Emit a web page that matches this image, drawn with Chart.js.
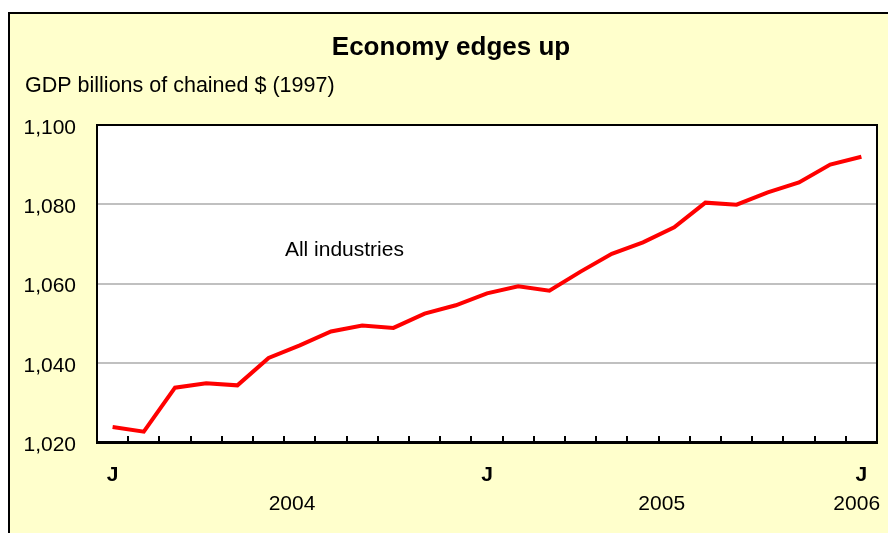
<!DOCTYPE html>
<html lang="en">
<head>
    <meta charset="UTF-8">
    <title>Economy edges up</title>
    <style>
        body { margin: 0; background: #fff; overflow: hidden; }
        #frame { position: absolute; left: 8px; top: 12px; width: 1000px; height: 700px; background: #ffffcc; border: 2px solid #000; }
        #gdpChart { position: absolute; left: 0; top: 0; }
    </style>
</head>
<body>
    <div id="frame"></div>
    <canvas id="gdpChart" width="888" height="533"></canvas>

    <script src="https://cdn.jsdelivr.net/npm/chart.js"></script>
    <script>
    // Monthly GDP, Jan 2004 - Jan 2006 (billions of chained 1997 $)
    const months = [
      'Jan 2004', 'Feb 2004', 'Mar 2004', 'Apr 2004', 'May 2004', 'Jun 2004',
      'Jul 2004', 'Aug 2004', 'Sep 2004', 'Oct 2004', 'Nov 2004', 'Dec 2004',
      'Jan 2005', 'Feb 2005', 'Mar 2005', 'Apr 2005', 'May 2005', 'Jun 2005',
      'Jul 2005', 'Aug 2005', 'Sep 2005', 'Oct 2005', 'Nov 2005', 'Dec 2005',
      'Jan 2006'
    ];
    const gdp = [
      1023.8, 1022.6, 1033.7, 1034.8, 1034.3, 1041.2,
      1044.4, 1047.9, 1049.4, 1048.8, 1052.4, 1054.5,
      1057.5, 1059.3, 1058.2, 1063.0, 1067.5, 1070.4,
      1074.2, 1080.4, 1079.9, 1083.0, 1085.5, 1090.0,
      1092.0
    ];
    // year captions under the month letters (position in month index units)
    const yearLabels = ['2004', '2005', '2006'];
    const yearTickPos = [5.75, 17.6, 23.85];
    const seriesName = 'All industries';

    const FONT = "'Liberation Sans', Arial, sans-serif";
    Chart.defaults.font.family = FONT;
    Chart.defaults.color = '#000';

    // white plot area, black frame, series caption
    const plotFrame = {
      id: 'plotFrame',
      beforeDraw(chart) {
        const a = chart.chartArea, ctx = chart.ctx;
        ctx.save();
        ctx.fillStyle = '#fff';
        ctx.fillRect(a.left, a.top, a.right - a.left, a.bottom - a.top);
        ctx.restore();
      },
      afterDraw(chart) {
        const a = chart.chartArea, ctx = chart.ctx;
        ctx.save();
        ctx.strokeStyle = '#000';
        ctx.lineWidth = 2;
        ctx.strokeRect(a.left, a.top, a.right - a.left, a.bottom - a.top);
        ctx.lineWidth = 3;
        ctx.beginPath();
        ctx.moveTo(a.left - 1, a.bottom + 0.5);
        ctx.lineTo(a.right + 1, a.bottom + 0.5);
        ctx.stroke();
        // caption next to the line
        ctx.font = '21px ' + FONT;
        ctx.fillStyle = '#000';
        ctx.textAlign = 'center';
        ctx.textBaseline = 'middle';
        ctx.fillText(seriesName, chart.scales.x2.getPixelForValue(7.43), chart.scales.y.getPixelForValue(1068.4));
        ctx.restore();
      }
    };

    new Chart(document.getElementById('gdpChart'), {
      type: 'line',
      data: {
        labels: months,
        datasets: [{
          label: seriesName,
          data: gdp,
          borderColor: '#ff0000',
          borderWidth: 4,
          pointRadius: 0,
          tension: 0,
          fill: false
        }]
      },
      options: {
        responsive: false,
        animation: false,
        devicePixelRatio: 1,
        events: [],
        layout: { padding: { left: 25, right: 11, top: 0, bottom: 0 } },
        plugins: {
          legend: { display: false },
          tooltip: { enabled: false },
          title: {
            display: true,
            text: 'Economy edges up',
            font: { size: 26, weight: 'bold' },
            padding: { top: 32, bottom: 0 }
          },
          subtitle: {
            display: true,
            text: 'GDP billions of chained $ (1997)',
            align: 'start',
            font: { size: 21.5 },
            padding: { top: 10, bottom: 26 }
          }
        },
        scales: {
          x: {
            type: 'category',
            offset: true,
            grid: {
              offset: true,
              drawOnChartArea: false,
              color: '#000',
              lineWidth: 2,
              tickLength: -6
            },
            border: { display: false },
            ticks: {
              autoSkip: false,
              maxRotation: 0,
              font: { size: 21, weight: 'bold' },
              padding: 27,
              callback: (v, i) => months[i].startsWith('Jan') ? 'J' : ''
            },
            afterFit(scale) {
              scale.height = 48;
              scale.paddingLeft = 0;
              scale.paddingRight = 0;
            }
          },
          x2: {
            type: 'linear',
            position: 'bottom',
            min: -0.5,
            max: 24.5,
            grid: { display: false, drawTicks: false },
            border: { display: false },
            ticks: {
              autoSkip: false,
              maxRotation: 0,
              font: { size: 21 },
              padding: 2,
              callback: (v, i) => yearLabels[i]
            },
            afterBuildTicks(scale) {
              scale.ticks = yearTickPos.map(v => ({ value: v }));
            },
            afterFit(scale) {
              scale.height = 43;
              scale.paddingLeft = 0;
              scale.paddingRight = 0;
            }
          },
          y: {
            min: 1020,
            max: 1100,
            ticks: { stepSize: 20, font: { size: 21 }, padding: 21, labelOffset: 3 },
            grid: { color: '#c0c0c0', lineWidth: 2, drawTicks: false },
            border: { display: false },
            afterFit(scale) {
              scale.width = 72;
            }
          }
        }
      },
      plugins: [plotFrame]
    });
    </script>
</body>
</html>
